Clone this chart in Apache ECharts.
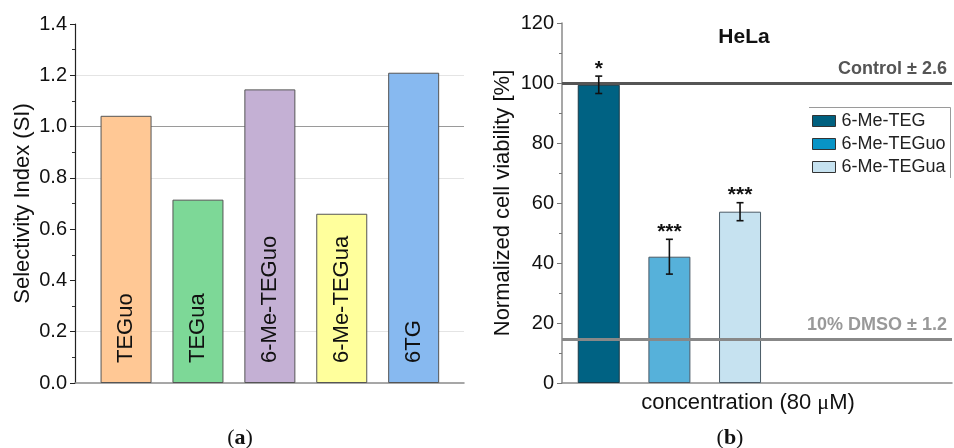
<!DOCTYPE html>
<html>
<head>
<meta charset="utf-8">
<script src="https://cdn.jsdelivr.net/npm/echarts@6/dist/echarts.min.js"></script>
<style>
  html, body { margin: 0; padding: 0; background: #fff; }
  #chart { width: 954px; height: 448px; }
</style>
</head>
<body>
<div id="chart"></div>
<script>
// (a) selectivity index per compound
const siCategories = ['TEGuo', 'TEGua', '6-Me-TEGuo', '6-Me-TEGua', '6TG'];
const siValues = [1.042, 0.715, 1.145, 0.660, 1.21];
const siColors = ['#FFC895', '#7DD897', '#C4B0D4', '#FFFF9C', '#87B9F0'];

// (b) HeLa viability at 80 µM
const viabilityNames = ['6-Me-TEG', '6-Me-TEGuo', '6-Me-TEGua'];
const viabilityValues = [99.4, 42.1, 57.1];
const viabilityErrors = [2.9, 5.8, 3.0];
const significance = ['*', '***', '***'];
const viabilityColors = ['#006283', '#56B1DA', '#C6E2F0'];
const legendSwatchColors = ['#00607F', '#0894C6', '#C6E2F0'];

// reference levels
const controlLevel = 100, controlSd = 2.6;
const dmsoLevel = 14.7, dmsoSd = 1.2;

const FONT = '"Liberation Sans", Arial, sans-serif';
const SERIF = '"Liberation Serif", "DejaVu Serif", serif';
const chart = echarts.init(document.getElementById('chart'), null, { renderer: 'canvas' });

const viabilityBars = viabilityNames.map((name, i) => ({
  name: name,
  type: 'bar',
  xAxisIndex: 1,
  yAxisIndex: 1,
  barWidth: 42,
  barGap: '-100%',
  z: 2,
  itemStyle: {
    color: viabilityColors[i],
    borderColor: i === 0 ? '#1b3a47' : '#4a5a66',
    borderWidth: 1
  },
  data: [[i + 1, viabilityValues[i]]]
}));

const panelLetter = (letter, x) => ({
  text: '({b|' + letter + '})', left: x, top: 422, textAlign: 'center',
  textStyle: {
    fontFamily: SERIF, fontSize: 22, color: '#111', fontWeight: 'normal',
    rich: { b: { fontFamily: SERIF, fontSize: 22, fontWeight: 'bold', color: '#111' } }
  }
});

const option = {
  animation: false,
  backgroundColor: '#fff',
  textStyle: { fontFamily: FONT },
  title: [
    {
      text: 'HeLa', left: 739, top: 22, textAlign: 'center',
      textStyle: { fontFamily: FONT, fontSize: 21, fontWeight: 'bold', color: '#111' }
    },
    panelLetter('a', 235),
    panelLetter('b', 725)
  ],
  legend: {
    orient: 'vertical',
    left: 812,
    top: 112,
    padding: 0,
    itemWidth: 23,
    itemHeight: 11,
    itemGap: 5,
    icon: 'rect',
    itemStyle: { borderColor: '#333', borderWidth: 1 },
    textStyle: { fontFamily: FONT, fontSize: 18, lineHeight: 18, color: '#222', padding: [0, 0, 0, 1] },
    data: viabilityNames.map((name, i) => ({ name: name, itemStyle: { color: legendSwatchColors[i] } }))
  },
  graphic: [
    {
      type: 'polyline',
      silent: true,
      shape: { points: [[809, 107.5], [950.5, 107.5], [950.5, 178]] },
      style: { stroke: '#9a9a9a', lineWidth: 1, fill: null }
    }
  ],
  grid: [
    { left: 75, right: 490, top: 24, bottom: 65 },
    { left: 562, right: 2, top: 23, bottom: 65 }
  ],
  xAxis: [
    {
      gridIndex: 0, type: 'value', min: 0.29, max: 5.7,
      axisLine: { show: true, lineStyle: { color: '#8a8a8a', width: 1.5 } },
      axisTick: { show: false }, axisLabel: { show: false }, splitLine: { show: false }
    },
    {
      gridIndex: 1, type: 'value', min: 0.48, max: 6.0,
      name: 'concentration (80 {mu|μ}M)',
      nameLocation: 'middle',
      nameGap: 9,
      nameTextStyle: {
        fontFamily: FONT, fontSize: 22, color: '#111', verticalAlign: 'top', padding: [0, 18, 0, 0],
        rich: { mu: { fontFamily: SERIF, fontSize: 22, color: '#111' } }
      },
      axisLine: { show: true, lineStyle: { color: '#8a8a8a', width: 1.5 } },
      axisTick: { show: false }, axisLabel: { show: false }, splitLine: { show: false }
    }
  ],
  yAxis: [
    {
      gridIndex: 0, type: 'value', min: 0, max: 1.4, interval: 0.2,
      name: 'Selectivity Index (SI)',
      nameLocation: 'middle',
      nameGap: 41,
      nameTextStyle: { fontFamily: FONT, fontSize: 22, color: '#111' },
      axisLine: { show: true, lineStyle: { color: '#222', width: 1.2 } },
      axisTick: { show: true, inside: false, length: 5, lineStyle: { color: '#222' } },
      minorTick: { show: true, splitNumber: 2, length: 3, lineStyle: { color: '#333' } },
      axisLabel: {
        fontFamily: FONT, fontSize: 20, color: '#111', margin: 8,
        formatter: v => v.toFixed(1)
      },
      splitLine: {
        show: true,
        lineStyle: {
          width: 1,
          color: ['rgba(0,0,0,0)', '#e4e4e4', 'rgba(0,0,0,0)', 'rgba(0,0,0,0)', '#e4e4e4', '#9a9a9a', '#e4e4e4', 'rgba(0,0,0,0)']
        }
      }
    },
    {
      gridIndex: 1, type: 'value', min: 0, max: 120, interval: 20,
      name: 'Normalized cell viability [%]',
      nameLocation: 'middle',
      nameGap: 48,
      nameTextStyle: { fontFamily: FONT, fontSize: 22, color: '#111' },
      axisLine: { show: true, lineStyle: { color: '#8a8a8a', width: 1.5 } },
      axisTick: { show: true, inside: false, length: 5, lineStyle: { color: '#777' } },
      minorTick: { show: true, splitNumber: 2, length: 3, lineStyle: { color: '#777' } },
      axisLabel: { fontFamily: FONT, fontSize: 20, color: '#111', margin: 8 },
      splitLine: { show: false }
    }
  ],
  series: [
    {
      name: 'Selectivity Index',
      type: 'bar',
      xAxisIndex: 0,
      yAxisIndex: 0,
      barWidth: 51,
      z: 2,
      data: siValues.map((v, i) => ({
        value: [i + 1, v],
        itemStyle: { color: siColors[i], borderColor: '#555', borderWidth: 1 }
      })),
      label: {
        show: true,
        position: 'insideBottom',
        distance: 20,
        rotate: 90,
        align: 'left',
        verticalAlign: 'middle',
        fontFamily: FONT,
        fontSize: 22,
        color: '#111',
        formatter: p => siCategories[p.dataIndex]
      }
    },
    ...viabilityBars,
    {
      name: 'Reference levels',
      type: 'line',
      xAxisIndex: 1,
      yAxisIndex: 1,
      data: [],
      z: 3,
      markLine: {
        silent: true,
        symbol: 'none',
        animation: false,
        z: 3,
        data: [
          {
            yAxis: controlLevel,
            lineStyle: { color: '#555', width: 3, type: 'solid' },
            label: {
              show: true, position: 'insideEndTop', distance: 5,
              formatter: 'Control ± ' + controlSd,
              fontFamily: FONT, fontSize: 18, fontWeight: 'bold', color: '#555'
            }
          },
          {
            yAxis: dmsoLevel,
            lineStyle: { color: '#888', width: 3, type: 'solid' },
            label: {
              show: true, position: 'insideEndTop', distance: 5,
              formatter: '10% DMSO ± ' + dmsoSd,
              fontFamily: FONT, fontSize: 18, fontWeight: 'bold', color: '#999'
            }
          }
        ]
      }
    },
    {
      name: 'Error',
      type: 'custom',
      xAxisIndex: 1,
      yAxisIndex: 1,
      z: 5,
      silent: true,
      encode: { x: 0, y: [1, 2] },
      data: viabilityValues.map((v, i) => [i + 1, v - viabilityErrors[i], v + viabilityErrors[i]]),
      renderItem: function (params, api) {
        const x = api.value(0);
        const lo = api.coord([x, api.value(1)]);
        const hi = api.coord([x, api.value(2)]);
        const cap = 3.5;
        const stroke = { stroke: '#111', lineWidth: 1.6 };
        return {
          type: 'group',
          children: [
            { type: 'line', shape: { x1: lo[0], y1: lo[1], x2: hi[0], y2: hi[1] }, style: stroke },
            { type: 'line', shape: { x1: hi[0] - cap, y1: hi[1], x2: hi[0] + cap, y2: hi[1] }, style: stroke },
            { type: 'line', shape: { x1: lo[0] - cap, y1: lo[1], x2: lo[0] + cap, y2: lo[1] }, style: stroke },
            {
              type: 'text',
              style: {
                text: significance[params.dataIndex],
                x: hi[0], y: hi[1] - 7,
                align: 'center', verticalAlign: 'middle',
                font: 'bold 21px ' + FONT,
                fill: '#111'
              }
            }
          ]
        };
      }
    }
  ]
};

chart.setOption(option);
</script>
</body>
</html>
